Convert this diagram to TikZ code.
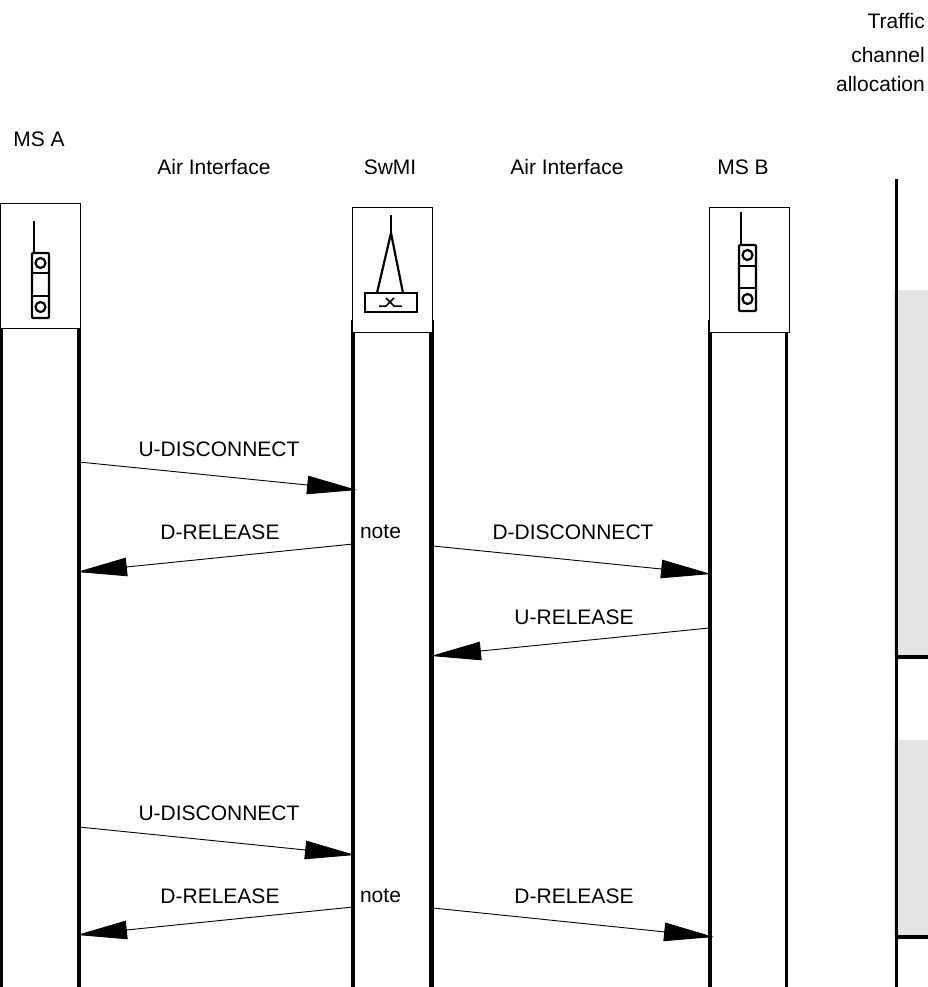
\documentclass[tikz,border=0pt]{standalone}
\usepackage{fontspec}
\setmainfont{Liberation Sans}
\usetikzlibrary{arrows,arrows.meta}
\definecolor{allocgrey}{HTML}{E4E4E4}
\tikzset{%
    >={Triangle[length=50pt,width=18.5pt]}
}

\begin{document}
\begin{tikzpicture}[x=1pt, y=-1pt, every node/.style={font=\fontsize{21}{24}\selectfont, inner sep=0pt},
    msg/.style={->, line width=0.9pt},
    lifeline/.style={line width=4pt},
    icon/.style={line width=2.2pt},
    unitbox/.style={draw, line width=1pt, fill=white, minimum width=80pt, minimum height=125pt}]
  \useasboundingbox (0,0) rectangle (928,987);

  % channel allocation column
  \fill[allocgrey] (894,290) rectangle (928,655);
  \fill[allocgrey] (894,740) rectangle (928,935);
  \draw[lifeline, line width=3pt] (896.5,179) -- (896.5,987);
  \draw[lifeline] (895,657) -- (928,657);
  \draw[lifeline] (895,937) -- (928,937);
  \node[anchor=east] (traffic) at (925,21) {Traffic};
  \node[anchor=east] (channel) at (925,54.5) {channel};
  \node[anchor=east] (alloc) at (925,83.5) {allocation};

  % lifelines
  \draw[lifeline, line width=3pt] (1.5,325) -- (1.5,987);
  \draw[lifeline] (79,325) -- (79,987);
  \draw[lifeline] (353,320) -- (353,987);
  \draw[lifeline, line width=5pt] (431.5,320) -- (431.5,987);
  \draw[lifeline] (710,320) -- (710,987);
  \draw[lifeline, line width=3pt] (786.5,325) -- (786.5,987);

  % units
  \node[unitbox] (msa) at (40,266) {};
  \node[unitbox] (swmi) at (392,269.5) {};
  \node[unitbox] (msb) at (749,269.5) {};
  \node (msalabel) at (39,139) {MS A};
  \node (air1) at (214,167) {Air Interface};
  \node (swmilabel) at (390,167) {SwMI};
  \node (air2) at (567,167) {Air Interface};
  \node (msblabel) at (743,167) {MS B};

  % MS A handset
  \draw[icon] (34,221) -- (34,253);
  \draw[icon, rounded corners=1pt] (32,253) rectangle (49,318);
  \draw[icon] (32,273) -- (49,273);
  \draw[icon] (32,296) -- (49,296);
  \draw[icon] (40.5,263) circle[radius=5];
  \draw[icon] (40.5,307) circle[radius=5];

  % SwMI mast
  \draw[icon] (391,215) -- (391,233);
  \draw[icon] (377,293) -- (391,233) -- (403,293);
  \draw[icon] (365,293) rectangle (417,312);
  \draw[line width=1.5pt] (379,306) -- (386,306) -- (394,298);
  \draw[line width=1.5pt] (386,298) -- (394,306) -- (402,306);

  % MS B handset
  \draw[icon] (741,212) -- (741,245);
  \draw[icon, rounded corners=1pt] (739,245) rectangle (756,311);
  \draw[icon] (739,266) -- (756,266);
  \draw[icon] (739,288) -- (756,288);
  \draw[icon] (747.5,255) circle[radius=5];
  \draw[icon] (747.5,299) circle[radius=5];

  % first exchange
  \coordinate (a1) at (79,462);
  \coordinate (s1) at (357,490);
  \coordinate (s2) at (353,544);
  \coordinate (a2) at (77,572);
  \coordinate (s3) at (433,546);
  \coordinate (b3) at (711,574);
  \coordinate (b4) at (709,628);
  \coordinate (s4) at (431,656);
  \draw[msg] (a1) -- (s1);
  \draw[msg] (s2) -- (a2);
  \draw[msg] (s3) -- (b3);
  \draw[msg] (b4) -- (s4);
  \node (udisc1) at (219,449) {U-DISCONNECT};
  \node (drel1) at (220,532) {D-RELEASE};
  \node (note1) at (380.5,532) {note};
  \node (ddisc) at (573,532) {D-DISCONNECT};
  \node (urel) at (574,617) {U-RELEASE};

  % second exchange
  \coordinate (a5) at (79,827);
  \coordinate (s5) at (355,855);
  \coordinate (s6) at (353,907);
  \coordinate (a6) at (77,935);
  \coordinate (s7) at (433,908);
  \coordinate (b7) at (714,937);
  \draw[msg] (a5) -- (s5);
  \draw[msg] (s6) -- (a6);
  \draw[msg] (s7) -- (b7);
  \node (udisc2) at (219,813) {U-DISCONNECT};
  \node (drel2) at (220,896) {D-RELEASE};
  \node (note2) at (380.5,896) {note};
  \node (drel3) at (574,896) {D-RELEASE};
\end{tikzpicture}
\end{document}
